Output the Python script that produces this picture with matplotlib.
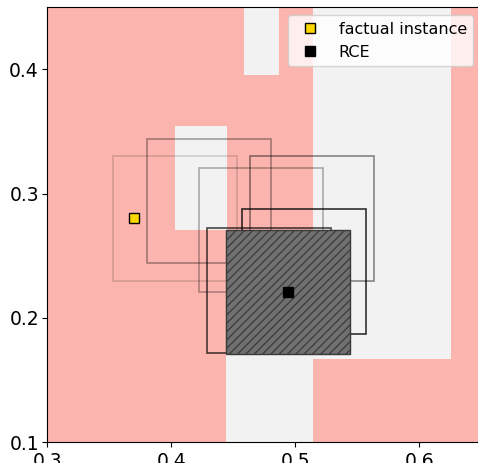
import numpy as np
import matplotlib
matplotlib.use("Agg")
import matplotlib.pyplot as plt
from matplotlib.patches import Rectangle

# decision regions (grey class) on pink background: x0, x1, y0, y1
region_x0 = [0.4583, 0.4029, 0.5139, 0.4440]
region_x1 = [0.4865, 0.4446, 0.6259, 0.5139]
region_y0 = [0.3953, 0.2706, 0.1665, 0.1000]
region_y1 = [0.4600, 0.3542, 0.4600, 0.2706]

# intermediate boxes (lower-left corners), side 0.1
box_x0 = [0.353, 0.3805, 0.422, 0.4633, 0.457, 0.429]
box_y0 = [0.230, 0.244, 0.2205, 0.230, 0.1872, 0.1719]
box_alpha = [0.15, 0.35, 0.3, 0.45, 0.8, 0.7]
box_side = 0.1

factual = (0.370, 0.280)
rce = (0.4945, 0.2207)

plt.rcParams['hatch.color'] = '#3a3a3a'
plt.rcParams['hatch.linewidth'] = 0.9

fig = plt.figure(figsize=(4.78, 4.63), dpi=100)
ax = fig.add_axes([47.3 / 478, 21 / 463, 434 / 478, 434.8 / 463])
ax.set_facecolor('#fbb4ae')

for x0, x1, y0, y1 in zip(region_x0, region_x1, region_y0, region_y1):
    ax.add_patch(Rectangle((x0, y0), x1 - x0, y1 - y0, facecolor='#f2f2f2',
                           edgecolor='none', zorder=0))

for x0, y0, a in zip(box_x0, box_y0, box_alpha):
    ax.add_patch(Rectangle((x0, y0), box_side, box_side, fill=False,
                           edgecolor='black', alpha=a, lw=1.2, zorder=2))

ax.add_patch(Rectangle((rce[0] - box_side / 2, rce[1] - box_side / 2), box_side, box_side,
                       facecolor='#707070', edgecolor='#3a3a3a', hatch='////',
                       lw=1.0, zorder=3))

ax.plot(factual[0], factual[1], 's', markersize=7.5, mfc='gold', mec='black',
        mew=1.0, ls='none', label='factual instance', zorder=5)
ax.plot(rce[0], rce[1], 's', markersize=6.5, color='black', ls='none',
        label='RCE', zorder=5)

ax.set_xlim(0.3, 0.65)
ax.set_ylim(0.1, 0.45)
ax.set_xticks([0.3, 0.4, 0.5, 0.6])
ax.set_yticks([0.1, 0.2, 0.3, 0.4])
ax.tick_params(labelsize=13.5)
ax.tick_params(axis='y', pad=2.5)
ax.legend(loc='upper right', fontsize=11.5)

fig.savefig('out.png', dpi=100)
